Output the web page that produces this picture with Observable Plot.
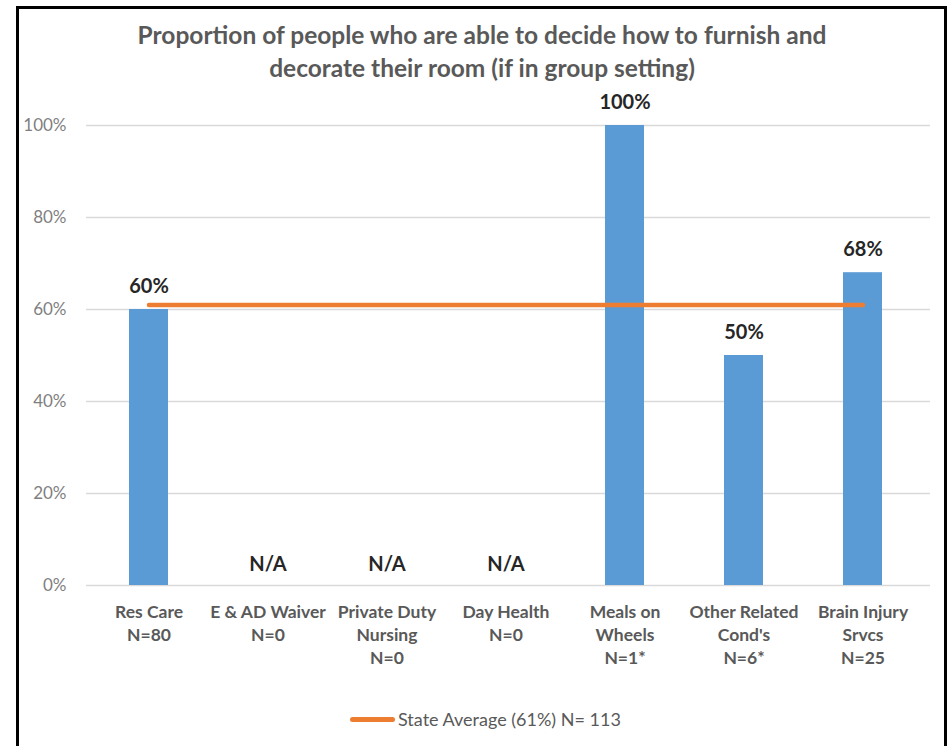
<!DOCTYPE html>
<html>
<head>
<meta charset="utf-8">
<script src="https://cdn.jsdelivr.net/npm/d3@7"></script>
<script src="https://cdn.jsdelivr.net/npm/@observablehq/plot@0.6"></script>
<style>
  html, body { margin: 0; padding: 0; background: #fff; }
  #page { position: relative; width: 951px; height: 746px; overflow: hidden; font-family: Lato, "Open Sans", sans-serif; }
  #frame { position: absolute; left: 16px; top: 6px; width: 931px; height: 760px; border: 3px solid #000; box-sizing: border-box; }
  #title { position: absolute; left: 0; width: 964px; top: 18px; text-align: center; font-size: 24.5px; font-weight: 700; color: #595959; line-height: 33px; }
  #chart { position: absolute; left: 0; top: 70px; }
  #legend { position: absolute; left: 350px; top: 707px; display: flex; align-items: center; font-size: 18px; line-height: 24px; color: #595959; }
  #legend .sw { width: 45px; height: 5px; border-radius: 3px; background: #ED7D31; margin-right: 3px; }
</style>
</head>
<body>
<div id="page">
  <div id="frame"></div>
  <div id="title">Proportion of people who are able to decide how to furnish and<br>decorate their room (if in group setting)</div>
  <div id="chart"></div>
  <div id="legend"><div class="sw"></div><span id="legtext"></span></div>
</div>
<script>
const categories = ["Res Care", "E & AD Waiver", "Private Duty Nursing", "Day Health", "Meals on Wheels", "Other Related Cond's", "Brain Injury Srvcs"];
const axisLabels = ["Res Care\nN=80", "E & AD Waiver\nN=0", "Private Duty\nNursing\nN=0", "Day Health\nN=0", "Meals on\nWheels\nN=1*", "Other Related\nCond's\nN=6*", "Brain Injury\nSrvcs\nN=25"];
const values = [60, null, null, null, 100, 50, 68];
const stateAverage = 61;
const legendLabel = "State Average (61%) N= 113";
const yTicks = [0, 20, 40, 60, 80, 100];

document.getElementById("legtext").textContent = legendLabel;

const data = categories.map((c, i) => ({cat: c, label: axisLabels[i], v: values[i]}));
const bars = data.filter(d => d.v != null);
const missing = data.filter(d => d.v == null);
const avgLine = [{cat: categories[0], v: stateAverage}, {cat: categories[categories.length - 1], v: stateAverage}];

const chart = Plot.plot({
  width: 951,
  height: 620,
  marginLeft: 86,
  marginRight: 27,
  marginTop: 55,
  marginBottom: 105,
  style: {fontFamily: "Lato, 'Open Sans', sans-serif", background: "transparent", overflow: "visible"},
  x: {domain: categories, padding: 0, axis: null},
  y: {domain: [0, 100], axis: null},
  marks: [
    Plot.ruleY(yTicks, {stroke: "#d9d9d9", strokeWidth: 1.3, insetLeft: 0, insetRight: -6}),
    Plot.axisY(yTicks, {tickFormat: d => d + "%", tickSize: 0, tickPadding: 20, fontSize: 17, fill: "#7f7f7f", label: null}),
    Plot.barY(bars, {x: "cat", y: "v", fill: "#5B9BD5", insetLeft: 40, insetRight: 40}),
    Plot.line(avgLine, {x: "cat", y: "v", stroke: "#ED7D31", strokeWidth: 4.5, strokeLinecap: "round"}),
    Plot.text(bars, {x: "cat", y: "v", text: d => d.v + "%", dy: -23, fontSize: 20, fontWeight: 700, fill: "#262626"}),
    Plot.text(missing, {x: "cat", y: () => 0, text: () => "N/A", dy: -21, fontSize: 20, fontWeight: 700, fill: "#262626"}),
    Plot.text(data, {x: "cat", y: () => 0, text: "label", lineAnchor: "top", dy: 16, lineHeight: 1.32, fontSize: 17.5, fontWeight: 700, fill: "#595959"})
  ]
});
document.getElementById("chart").appendChild(chart);
</script>
</body>
</html>
